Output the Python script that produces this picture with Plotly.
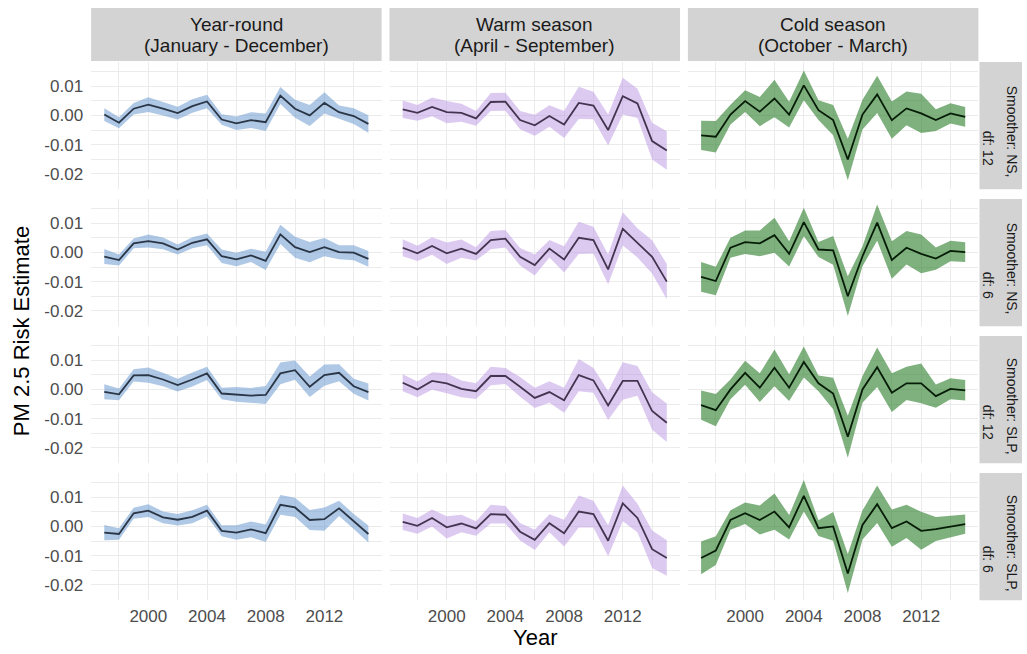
import numpy as np
import plotly.graph_objects as go

W, H = 1027, 654
FONT = "Liberation Sans, Arial, sans-serif"

years = list(range(1997, 2016))

season_titles = ["Year-round", "Warm season", "Cold season"]
season_months = ["(January - December)", "(April - September)", "(October - March)"]
smoother_lines = [("Smoother: NS,", "df: 12"), ("Smoother: NS,", "df: 6"),
                  ("Smoother: SLP,", "df: 12"), ("Smoother: SLP,", "df: 6")]

x_tick_vals = [2000, 2004, 2008, 2012]
x_tick_text = ["2000", "2004", "2008", "2012"]
y_tick_vals = [-0.02, -0.01, 0.0, 0.01]
y_tick_text = ["-0.02", "-0.01", "0.00", "0.01"]

# Risk estimates and 95% CI half-widths, in thousandths
yr_ns12_est = [0.3, -2.5, 2.3, 3.7, 2.3, 0.8, 3.2, 4.8, -1.4, -2.7, -1.6, -2.3, 6.8, 2.3, 0.0, 4.3, 1.1, -0.2, -2.9]
yr_ns12_ci = [2.2, 1.9, 2.0, 2.5, 2.3, 2.2, 2.3, 2.3, 1.8, 2.3, 2.7, 3.0, 2.9, 3.1, 3.6, 3.6, 2.3, 2.7, 3.0]
warm_ns12_est = [2.1, 0.9, 2.9, 1.1, 0.9, -1.0, 4.6, 4.7, -1.6, -3.4, -0.2, -3.1, 4.3, 3.4, -5.0, 6.6, 4.1, -8.8, -12.0]
warm_ns12_ci = [3.0, 2.7, 3.2, 3.8, 3.1, 2.5, 3.1, 3.1, 3.1, 3.6, 3.7, 4.6, 5.5, 4.7, 5.3, 6.3, 5.0, 6.3, 6.6]
cold_ns12_est = [-6.8, -7.3, 0.3, 4.9, 1.3, 5.8, 0.3, 10.3, 1.8, -1.6, -15.1, 0.3, 7.2, -1.6, 2.4, 0.7, -1.6, 0.7, -0.5]
cold_ns12_ci = [5.0, 5.4, 3.4, 3.7, 5.0, 6.4, 4.4, 5.1, 3.4, 5.2, 7.1, 5.1, 6.4, 6.4, 5.8, 6.7, 3.7, 3.5, 3.4]

yr_ns6_est = [-1.4, -2.6, 3.1, 3.9, 3.1, 1.0, 3.3, 4.5, -1.3, -2.4, -1.0, -2.9, 6.2, 1.8, 0.1, 1.8, 0.1, -0.1, -2.2]
yr_ns6_ci = [2.6, 1.9, 1.7, 2.2, 2.0, 1.7, 1.9, 2.0, 2.3, 2.3, 2.3, 3.1, 3.3, 3.6, 3.5, 3.1, 2.4, 2.6, 2.7]
warm_ns6_est = [1.6, -0.3, 2.2, -0.3, 1.3, -0.5, 4.2, 4.7, -1.5, -4.3, 1.3, -2.4, 5.0, 4.2, -5.8, 8.1, 3.3, -1.5, -10.0]
warm_ns6_ci = [2.9, 2.6, 3.0, 3.7, 3.1, 2.3, 3.1, 3.0, 3.0, 3.6, 3.0, 4.5, 5.5, 4.6, 5.1, 5.7, 5.0, 5.7, 6.0]
cold_ns6_est = [-8.4, -9.8, 1.6, 3.5, 3.1, 5.9, -0.5, 10.4, 1.0, 0.7, -15.0, -1.3, 10.2, -2.6, 1.6, -0.5, -2.1, 0.5, 0.1]
cold_ns6_ci = [5.1, 4.9, 3.4, 4.0, 4.4, 6.0, 4.3, 4.9, 2.6, 4.9, 6.8, 3.4, 6.2, 6.4, 5.7, 6.6, 3.8, 3.5, 3.4]

yr_slp12_est = [-0.8, -1.7, 4.8, 4.9, 3.4, 1.5, 3.4, 5.5, -1.4, -1.7, -2.1, -1.9, 5.5, 6.6, 0.9, 4.9, 5.7, 1.1, -0.9]
yr_slp12_ci = [2.6, 2.0, 2.1, 2.6, 2.3, 2.2, 2.4, 2.3, 2.0, 2.5, 2.6, 3.1, 3.7, 3.3, 3.5, 3.6, 2.9, 2.6, 2.9]
warm_slp12_est = [2.3, 0.0, 2.9, 2.1, 0.2, -0.6, 4.6, 4.6, 0.9, -2.9, -0.9, -3.7, 4.9, 3.1, -5.5, 2.9, 2.9, -7.4, -11.4]
warm_slp12_ci = [2.9, 2.7, 3.0, 3.4, 2.9, 2.7, 3.2, 2.7, 3.4, 3.5, 3.7, 4.3, 5.5, 4.2, 5.0, 6.4, 5.1, 6.4, 6.6]
cold_slp12_est = [-5.4, -7.1, 0.0, 5.7, 0.6, 7.4, 0.6, 9.4, 2.1, -1.4, -16.2, 0.0, 7.6, -1.1, 2.1, 2.1, -2.3, 0.2, -0.3]
cold_slp12_ci = [5.0, 5.5, 3.4, 4.1, 4.9, 6.3, 4.6, 5.3, 2.7, 5.4, 7.2, 4.6, 6.8, 6.6, 5.7, 6.8, 4.0, 3.6, 3.5]

yr_slp6_est = [-2.1, -2.6, 4.5, 5.4, 3.1, 2.3, 3.3, 5.4, -1.5, -2.1, -1.0, -2.3, 7.4, 6.5, 2.2, 2.5, 6.2, 1.7, -2.6]
yr_slp6_ci = [2.6, 2.0, 1.9, 2.2, 2.0, 2.0, 2.2, 2.0, 1.9, 2.5, 2.7, 3.0, 3.4, 3.3, 3.4, 4.0, 2.6, 2.6, 2.9]
warm_slp6_est = [1.6, 0.2, 2.9, -0.3, 1.0, -0.7, 4.2, 4.0, -1.8, -4.6, 1.1, -2.3, 5.1, 4.2, -4.9, 7.9, 2.9, -7.8, -10.8]
warm_slp6_ci = [2.8, 2.7, 2.9, 3.8, 3.0, 2.5, 3.2, 3.0, 3.0, 3.5, 3.1, 4.6, 5.5, 4.6, 5.3, 6.1, 4.9, 6.4, 6.1]
cold_slp6_est = [-10.8, -8.3, 2.2, 4.5, 2.2, 5.1, -0.3, 10.5, -0.6, 0.0, -16.1, 0.5, 7.6, -0.6, 1.7, -1.5, -0.9, 0.0, 0.8]
cold_slp6_ci = [5.6, 4.9, 3.3, 3.7, 5.0, 6.2, 4.2, 5.4, 2.7, 4.9, 6.7, 5.0, 6.4, 6.4, 5.7, 6.5, 4.1, 3.7, 3.3]

SCALE = 1e-3

panels = [
    [(yr_ns12_est, yr_ns12_ci), (warm_ns12_est, warm_ns12_ci), (cold_ns12_est, cold_ns12_ci)],
    [(yr_ns6_est, yr_ns6_ci), (warm_ns6_est, warm_ns6_ci), (cold_ns6_est, cold_ns6_ci)],
    [(yr_slp12_est, yr_slp12_ci), (warm_slp12_est, warm_slp12_ci), (cold_slp12_est, cold_slp12_ci)],
    [(yr_slp6_est, yr_slp6_ci), (warm_slp6_est, warm_slp6_ci), (cold_slp6_est, cold_slp6_ci)],
]

ribbon_fill = ["rgba(100,150,205,0.52)", "rgba(188,150,228,0.5)", "rgba(34,120,34,0.58)"]
line_color = ["#2a3546", "#45344f", "#061c06"]

# panel geometry in pixels
col_left = [91.1, 389.5, 687.9]
panel_w = 290.5
row_top = [62.0, 199.0, 336.0, 473.0]
panel_h = 127.3
strip_top = (8.0, 61.0)
strip_right = (979.5, 1022.0)

x_range = [1996.1, 2015.9]
y_range = [-0.0253, 0.0183]


def px_x(p):
    return p / W


def px_y(p):
    return 1 - p / H


fig = go.Figure()
layout = {}

for r in range(4):
    for c in range(3):
        k = r * 3 + c + 1
        xname = "x" if k == 1 else f"x{k}"
        yname = "y" if k == 1 else f"y{k}"
        est, ci = panels[r][c]
        est = np.array(est) * SCALE
        ci = np.array(ci) * SCALE
        lo, hi = est - ci, est + ci
        fig.add_trace(go.Scatter(
            x=years + years[::-1], y=list(hi) + list(lo[::-1]),
            fill="toself", fillcolor=ribbon_fill[c], line=dict(width=0),
            mode="lines", hoverinfo="skip", showlegend=False,
            xaxis=xname, yaxis=yname))
        fig.add_trace(go.Scatter(
            x=years, y=est, mode="lines",
            line=dict(color=line_color[c], width=1.8),
            showlegend=False, xaxis=xname, yaxis=yname))

        xkey = "xaxis" if k == 1 else f"xaxis{k}"
        ykey = "yaxis" if k == 1 else f"yaxis{k}"
        layout[xkey] = dict(
            domain=[px_x(col_left[c]), px_x(col_left[c] + panel_w)],
            anchor=yname, range=x_range,
            tickvals=x_tick_vals, ticktext=x_tick_text,
            showticklabels=(r == 3), ticks="", ticklabelstandoff=4,
            tickfont=dict(family=FONT, size=17, color="#4d4d4d"),
            showgrid=True, gridcolor="#ebebeb", gridwidth=1.2,
            minor=dict(tickvals=[1998, 2002, 2006, 2010, 2014], showgrid=True,
                       gridcolor="#ebebeb", gridwidth=0.8),
            zeroline=False, showline=False, fixedrange=True)
        layout[ykey] = dict(
            domain=[px_y(row_top[r] + panel_h), px_y(row_top[r])],
            anchor=xname, range=y_range,
            tickvals=y_tick_vals, ticktext=y_tick_text,
            showticklabels=(c == 0), ticks="", ticklabelstandoff=7,
            tickfont=dict(family=FONT, size=17, color="#4d4d4d"),
            showgrid=True, gridcolor="#ebebeb", gridwidth=1.2,
            minor=dict(tickvals=[-0.025, -0.015, -0.005, 0.005, 0.015], showgrid=True,
                       gridcolor="#ebebeb", gridwidth=0.8),
            zeroline=False, showline=False, fixedrange=True)

shapes = []
annotations = []

# facet strips along the top
for c in range(3):
    x0, x1 = col_left[c], col_left[c] + panel_w
    shapes.append(dict(type="rect", xref="paper", yref="paper",
                       x0=px_x(x0), x1=px_x(x1), y0=px_y(strip_top[1]), y1=px_y(strip_top[0]),
                       fillcolor="#d3d3d3", line=dict(width=0), layer="below"))
    xc = px_x((x0 + x1) / 2)
    for text, ypx in ((season_titles[c], 24.5), (season_months[c], 45.5)):
        annotations.append(dict(text=text, x=xc, y=px_y(ypx), xref="paper", yref="paper",
                                showarrow=False, xanchor="center", yanchor="middle",
                                font=dict(family=FONT, size=19, color="#1a1a1a")))

# facet strips along the right
for r in range(4):
    y0, y1 = row_top[r], row_top[r] + panel_h
    shapes.append(dict(type="rect", xref="paper", yref="paper",
                       x0=px_x(strip_right[0]), x1=px_x(strip_right[1]),
                       y0=px_y(y1), y1=px_y(y0),
                       fillcolor="#d3d3d3", line=dict(width=0), layer="below"))
    ymid = (y0 + y1) / 2
    for text, xpx, ypx in ((smoother_lines[r][0], 1012.0, ymid + 6),
                           (smoother_lines[r][1], 988.0, ymid + 22)):
        annotations.append(dict(text=text, x=px_x(xpx), y=px_y(ypx), xref="paper", yref="paper",
                                showarrow=False, xanchor="center", yanchor="middle",
                                textangle=90,
                                font=dict(family=FONT, size=14, color="#1a1a1a")))

# axis titles
annotations.append(dict(text="PM 2.5 Risk Estimate", x=px_x(21), y=px_y((row_top[0] + row_top[3] + panel_h) / 2),
                        xref="paper", yref="paper", showarrow=False, textangle=-90,
                        xanchor="center", yanchor="middle",
                        font=dict(family=FONT, size=22, color="#000000")))
annotations.append(dict(text="Year", x=px_x((col_left[0] + col_left[2] + panel_w) / 2), y=px_y(637),
                        xref="paper", yref="paper", showarrow=False,
                        xanchor="center", yanchor="middle",
                        font=dict(family=FONT, size=22, color="#000000")))

fig.update_layout(
    width=W, height=H,
    margin=dict(l=0, r=0, t=0, b=0),
    paper_bgcolor="white", plot_bgcolor="white",
    showlegend=False,
    shapes=shapes, annotations=annotations,
    **layout,
)

fig.write_html("out.html")
